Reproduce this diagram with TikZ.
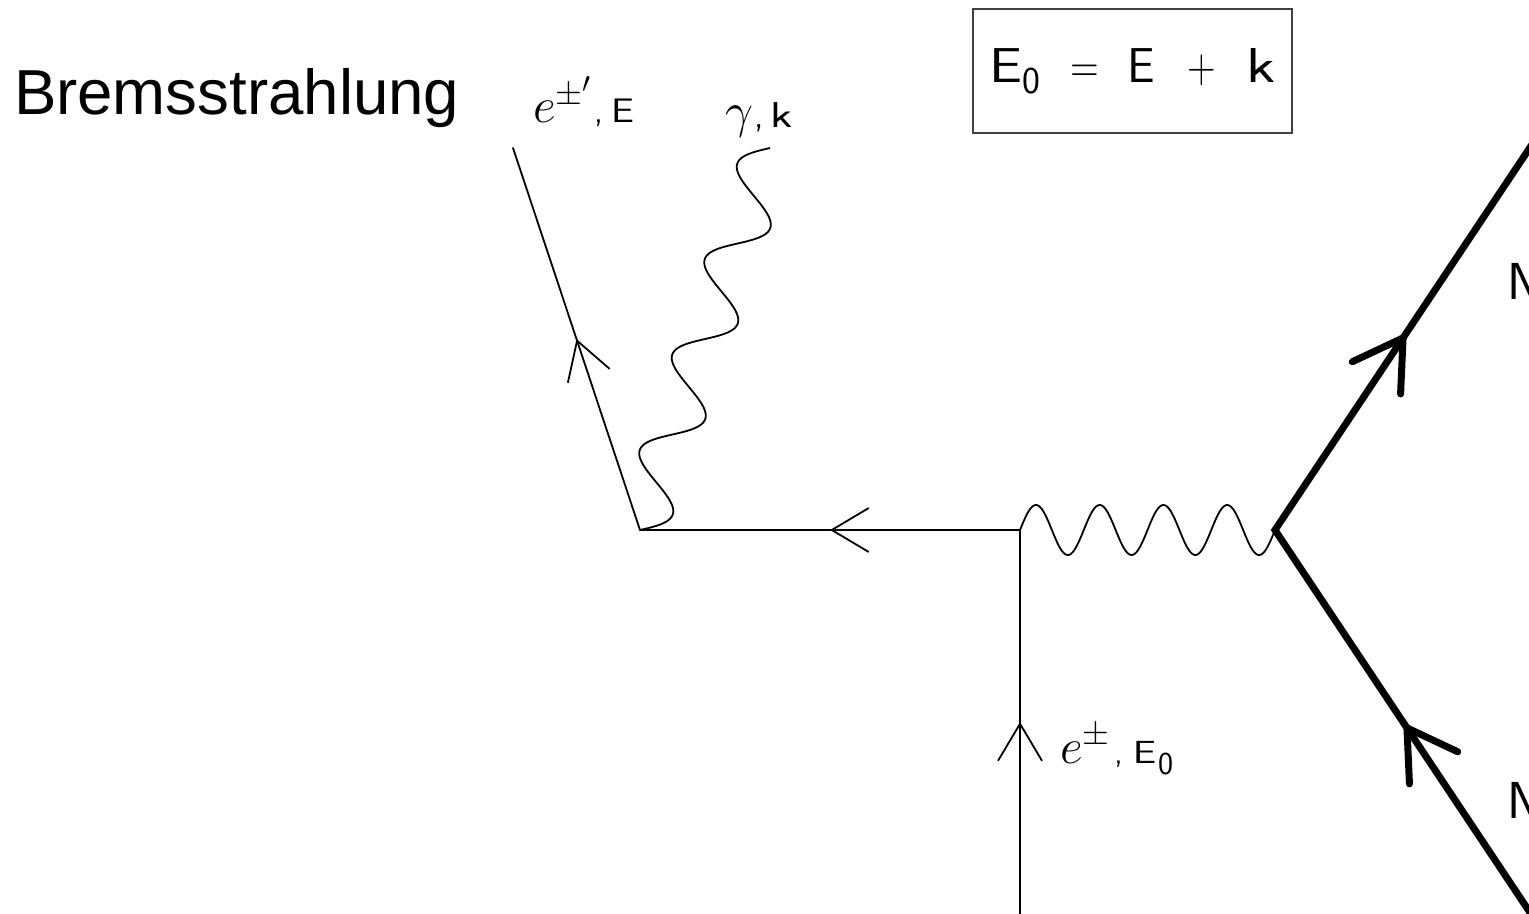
\documentclass[tikz,border=0pt]{standalone}
\usepackage{fontspec}
\newfontfamily\arialfont{Liberation Sans}
\usetikzlibrary{arrows.meta,decorations.markings,calc}
\newcommand{\widesf}[2]{\scalebox{#1}[1]{#2}}
\tikzset{
  thinline/.style={line width=0.9pt, line cap=round},
  fermion/.style={thinline, postaction={decorate},
    decoration={markings, mark=at position 0.5 with {\arrow{Straight Barb[length=18.5pt,width=22pt,line width=0.9pt]}}}},
  nucleus/.style={line width=3.5pt, line join=miter, postaction={decorate},
    decoration={markings,
      mark=at position 0.25 with {\arrow{Straight Barb[length=24pt,width=29pt,line width=3.5pt,round]}},
      mark=at position 0.75 with {\arrow{Straight Barb[length=24pt,width=29pt,line width=3.5pt,round]}}}},
  photon/.style={line width=0.9pt},
  lbl/.style={inner sep=0pt, outer sep=0pt}
}
\begin{document}
\begin{tikzpicture}[x=0.5pt, y=-0.5pt]
\useasboundingbox (0,0) rectangle (1529,914);
\fill[white] (0,0) rectangle (1529,914);

% vertices and free ends
\coordinate (A) at (640,530);
\coordinate (B) at (1020,530);
\coordinate (C) at (1275,530);
\coordinate (Eout) at (513,148);
\coordinate (Gout) at (770,148);
\coordinate (Ein) at (1020,914);
\coordinate (Ntop) at (1535,140);
\coordinate (Nbot) at (1535,920);

% electron lines
\draw[fermion] (Ein) -- (B);
\draw[fermion] (B) -- (A);
\draw[fermion] (A) -- (Eout);

% nucleus line
\draw[nucleus] (Nbot) -- (C) -- (Ntop);

% virtual photon B -> C
\draw[photon, shift={(B)}] plot[domain=0:127.5, samples=200, smooth]
  ({\x*1pt}, {12.5*sin(\x*11.2941)*1pt});

% radiated photon A -> Gout
\draw[photon, shift={(A)}, rotate=71.2] plot[domain=0:201.76, samples=240, smooth]
  ({\x*1pt}, {-13*sin(\x*7.1372)*1pt});

% labels
\node[lbl, anchor=base west] (title) at (14,115)
  {\arialfont\fontsize{31.8}{36}\selectfont Bremsstrahlung};
\node[lbl, anchor=base west] (leout) at (533,123)
  {\fontsize{27}{30}\selectfont$e^{\pm'}$\sffamily\fontsize{17}{20}\selectfont\hspace{1pt},\hspace{4pt}\widesf{1.2}{E}};
\node[lbl, anchor=base west] (lgamma) at (725,128)
  {\fontsize{27}{30}\selectfont$\gamma$\sffamily\fontsize{18}{20}\selectfont\hspace{1pt},\hspace{3pt}\widesf{1.35}{k}};
\node[lbl, anchor=base west] (lein) at (1060,763)
  {\fontsize{27}{30}\selectfont$e^{\pm}$\sffamily\fontsize{16}{20}\selectfont\hspace{2pt},\hspace{5pt}\widesf{1.3}{E}\hspace{1pt}\raisebox{-5.5pt}{0}};
\node[draw=black!75, line width=0.8pt, minimum width=159.5pt, minimum height=62pt, inner sep=0pt] (box) at (1132.5,71)
  {\sffamily\fontsize{24.5}{28}\selectfont \widesf{1.2}{E}\raisebox{-5.5pt}{\fontsize{19}{20}\selectfont 0}\hspace{15pt}\widesf{0.8}{=}\hspace{14pt}E\hspace{16.5pt}\widesf{0.8}{+}\hspace{15pt}\widesf{1.3}{k}};
\node[lbl, anchor=north west] (n1) at (1507,263) {\sffamily\fontsize{26}{30}\selectfont N};
\node[lbl, anchor=north west] (n2) at (1507,782) {\sffamily\fontsize{26}{30}\selectfont N};
\end{tikzpicture}
\end{document}
